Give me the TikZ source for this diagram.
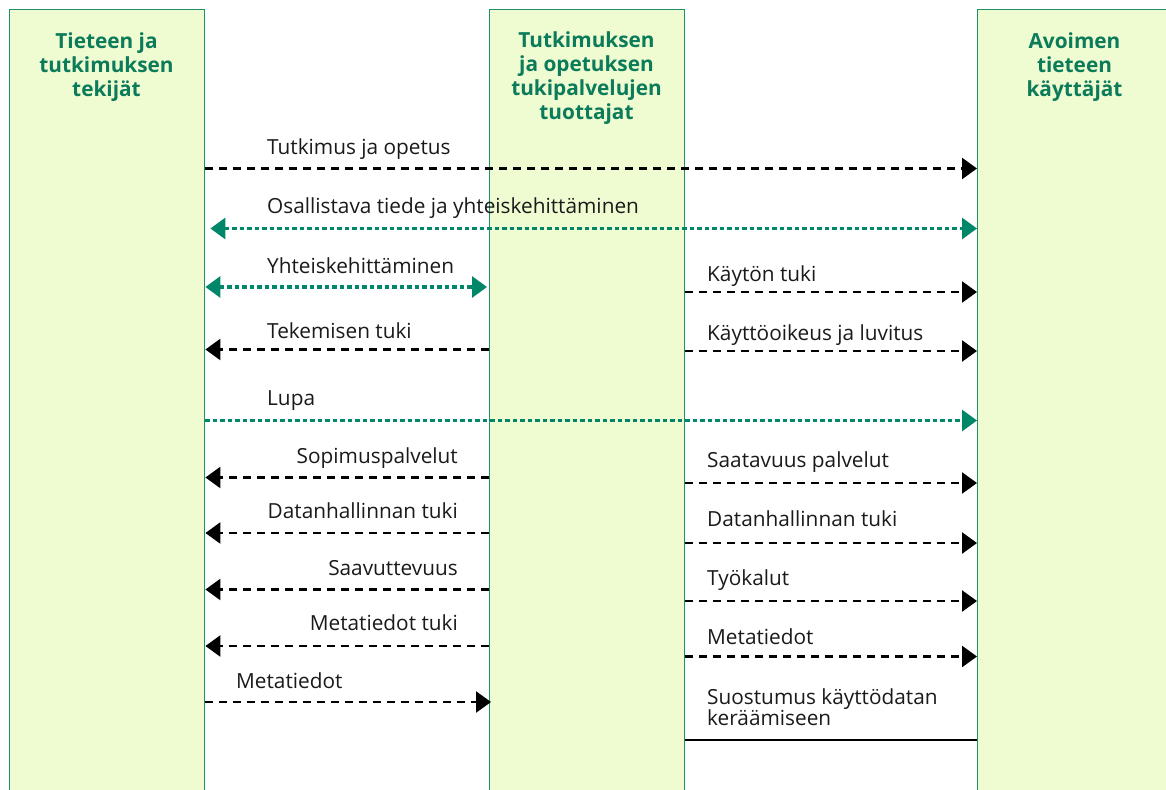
\documentclass[tikz,border=0pt]{standalone}
\usepackage{fontspec}
\setmainfont{Open Sans}
\usetikzlibrary{arrows.meta}
\definecolor{lanefill}{HTML}{EFFCD2}
\definecolor{laneedge}{HTML}{1E9070}
\definecolor{hdr}{HTML}{0B7B5A}
\definecolor{grn}{HTML}{00876A}
\definecolor{txt}{HTML}{1A1A1A}
\begin{document}
\begin{tikzpicture}[x=1pt,y=-1pt,
  lane/.style={draw=laneedge, line width=1.4pt, fill=lanefill, minimum width=195pt,
    minimum height=820pt, anchor=north west, inner sep=0pt},
  hdrtext/.style={font=\fontsize{20.8}{24}\selectfont\bfseries, text=hdr, align=center,
    anchor=north, inner sep=0pt},
  lbl/.style={font=\fontsize{20.8}{20}\selectfont, text=txt, inner sep=0pt},
  blk/.style={draw=black, line width=2.5pt, dash pattern=on 8pt off 6pt,
    -{Triangle[length=15pt,width=21pt]}},
  grnline/.style={draw=grn, line width=3.2pt, dash pattern=on 4.5pt off 3pt},
  grntip/.style={-{Triangle[length=15pt,width=21pt,fill=grn]}},
  grnboth/.style={{Triangle[length=15pt,width=21pt,fill=grn]}-{Triangle[length=15pt,width=21pt,fill=grn]}},
]
\useasboundingbox (0,0) rectangle (1166,789);
\fill[white] (0,0) rectangle (1166,789);

% lanes
\node[lane] (L) at (9,9) {};
\node[lane] (M) at (489,9) {};
\node[lane] (R) at (977,9) {};

% headers
\node[hdrtext] (hL) at (106.5,32.5) {Tieteen ja\\tutkimuksen\\tekijät};
\node[hdrtext] (hM) at (586.5,31.5) {Tutkimuksen\\ja opetuksen\\tukipalvelujen\\tuottajat};
\node[hdrtext] (hR) at (1074.5,32.5) {Avoimen\\tieteen\\käyttäjät};

% row coordinates
\coordinate (r1) at (0,168.5);
\coordinate (r2) at (0,228.5);
\coordinate (r3) at (0,287);
\coordinate (r4) at (0,349.5);
\coordinate (r5) at (0,420.5);
\coordinate (r6) at (0,477.5);
\coordinate (r7) at (0,533);
\coordinate (r8) at (0,589.5);
\coordinate (r9) at (0,646);
\coordinate (r10) at (0,702);
\coordinate (s1) at (0,292);
\coordinate (s2) at (0,351);
\coordinate (s3) at (0,483);
\coordinate (s4) at (0,543);
\coordinate (s5) at (0,601);
\coordinate (s6) at (0,656.5);
\coordinate (s7) at (0,740);

% left-side connectors
\draw[blk] (L.east |- r1) -- (R.west |- r1);
\draw[grnline,grnboth,shorten <=5pt] (L.east |- r2) -- (R.west |- r2);
\draw[grnline,grnboth,shorten >=2pt] (L.east |- r3) -- (M.west |- r3);
\draw[blk] (M.west |- r4) -- (L.east |- r4);
\draw[grnline,grntip] (L.east |- r5) -- (R.west |- r5);
\draw[blk] (M.west |- r6) -- (L.east |- r6);
\draw[blk] (M.west |- r7) -- (L.east |- r7);
\draw[blk] (M.west |- r8) -- (L.east |- r8);
\draw[blk] (M.west |- r9) -- (L.east |- r9);
\draw[blk,shorten >=-2pt] (L.east |- r10) -- (M.west |- r10);

% right-side connectors
\draw[blk] (M.east |- s1) -- (R.west |- s1);
\draw[blk] (M.east |- s2) -- (R.west |- s2);
\draw[blk] (M.east |- s3) -- (R.west |- s3);
\draw[blk] (M.east |- s4) -- (R.west |- s4);
\draw[blk] (M.east |- s5) -- (R.west |- s5);
\draw[blk] (M.east |- s6) -- (R.west |- s6);
\draw[line width=2.2pt] (M.east |- s7) -- (R.west |- s7);

% labels left
\node[lbl,anchor=base west] (t1) at (267,154) {Tutkimus ja opetus};
\node[lbl,anchor=base west] (t2) at (267,213) {Osallistava tiede ja yhteiskehittäminen};
\node[lbl,anchor=base west] (t3) at (267,273) {Yhteiskehittäminen};
\node[lbl,anchor=base west] (t4) at (267,338) {Tekemisen tuki};
\node[lbl,anchor=base west] (t5) at (267,405) {Lupa};
\node[lbl,anchor=base east] (t6) at (458,463) {Sopimuspalvelut};
\node[lbl,anchor=base east] (t7) at (458,518.5) {Datanhallinnan tuki};
\node[lbl,anchor=base east] (t8) at (458,575) {Saavuttevuus};
\node[lbl,anchor=base east] (t9) at (458,630.5) {Metatiedot tuki};
\node[lbl,anchor=base west] (t10) at (236,688) {Metatiedot};

% labels right
\node[lbl,anchor=base west] (u1) at (707,281) {Käytön tuki};
\node[lbl,anchor=base west] (u2) at (707,340) {Käyttöoikeus ja luvitus};
\node[lbl,anchor=base west] (u3) at (707,467) {Saatavuus palvelut};
\node[lbl,anchor=base west] (u4) at (707,526) {Datanhallinnan tuki};
\node[lbl,anchor=base west] (u5) at (707,585) {Työkalut};
\node[lbl,anchor=base west] (u6) at (707,644) {Metatiedot};
\node[lbl,anchor=north west,align=left] (u7) at (707,688) {Suostumus käyttödatan\\keräämiseen};
\end{tikzpicture}
\end{document}
